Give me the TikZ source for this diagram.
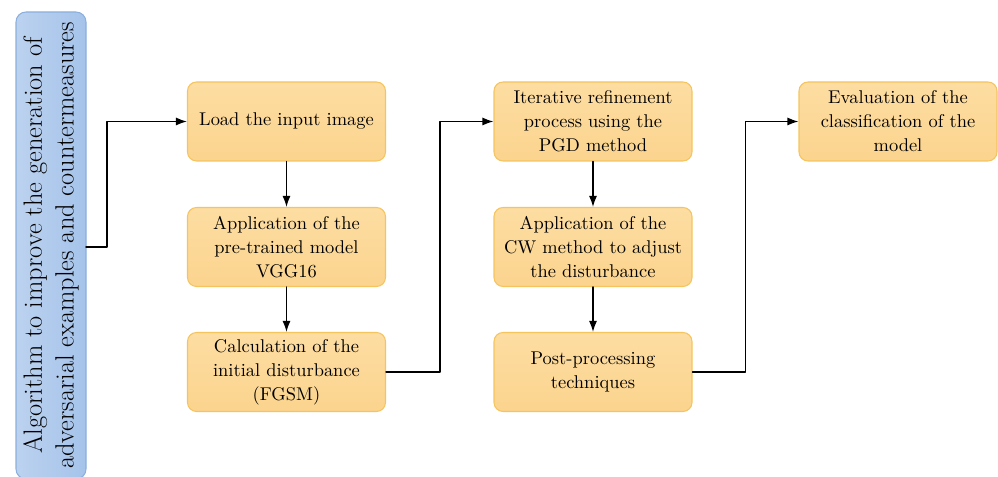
\documentclass[tikz,border=0pt]{standalone}
\usetikzlibrary{arrows.meta}
\definecolor{stepfill}{HTML}{FBD48E}
\definecolor{steptop}{HTML}{FDDDA2}
\definecolor{stepline}{HTML}{F5C45E}
\definecolor{algofill}{HTML}{A5C3EA}
\definecolor{algoline}{HTML}{8CAFDE}
\tikzset{
  stepbox/.style={draw=stepline, line width=0.6pt, rounded corners=0.18cm,
    top color=steptop, bottom color=stepfill,
    minimum width=3.96cm, minimum height=1.58cm, align=center,
    inner sep=0pt, font=\fontsize{10.5}{13.6}\selectfont},
  flow/.style={-{Latex[length=2.2mm,width=1.6mm]}, line width=0.8pt},
}
\begin{document}
\begin{tikzpicture}[line join=round, line cap=round]
  \useasboundingbox (0,0) rectangle (19.96,-9.54);
  % left banner, its lower end runs off the page
  \begin{scope}
    \clip (0,0) rectangle (19.96,-9.54);
    \node[draw=algoline, line width=0.6pt, rounded corners=0.2cm,
      left color=algofill!75!white, right color=algofill,
      minimum width=9.34cm, minimum height=1.4cm, inner sep=0pt,
      rotate=90, align=center, font=\fontsize{15}{18}\selectfont]
      (algo) at (1.02,-4.91)
      {Algorithm to improve the generation of\\adversarial examples and countermeasures};
  \end{scope}
  \coordinate (start) at (1.72,-4.94);
  % first column
  \node[stepbox] (load)  at (5.73,-2.43) {Load the input image};
  \node[stepbox] (vgg)   at (5.73,-4.94) {Application of the\\pre-trained model\\VGG16};
  \node[stepbox] (fgsm)  at (5.73,-7.44) {Calculation of the\\initial disturbance\\(FGSM)};
  % second column
  \node[stepbox] (pgd)   at (11.86,-2.43) {Iterative refinement\\process using the\\PGD method};
  \node[stepbox] (cw)    at (11.86,-4.94) {Application of the\\CW method to adjust\\the disturbance};
  \node[stepbox] (post)  at (11.86,-7.44) {Post-processing\\techniques};
  % last step
  \node[stepbox] (eval)  at (17.96,-2.43) {Evaluation of the\\classification of the\\model};
  % connectors
  \draw[flow] (start) -- ++(0.42,0) |- (load.west);
  \draw[flow] (load) -- (vgg);
  \draw[flow] (vgg) -- (fgsm);
  \draw[flow] (fgsm.east) -- ++(1.08,0) |- (pgd.west);
  \draw[flow] (pgd) -- (cw);
  \draw[flow] (cw) -- (post);
  \draw[flow] (post.east) -- ++(1.06,0) |- (eval.west);
\end{tikzpicture}
\end{document}
